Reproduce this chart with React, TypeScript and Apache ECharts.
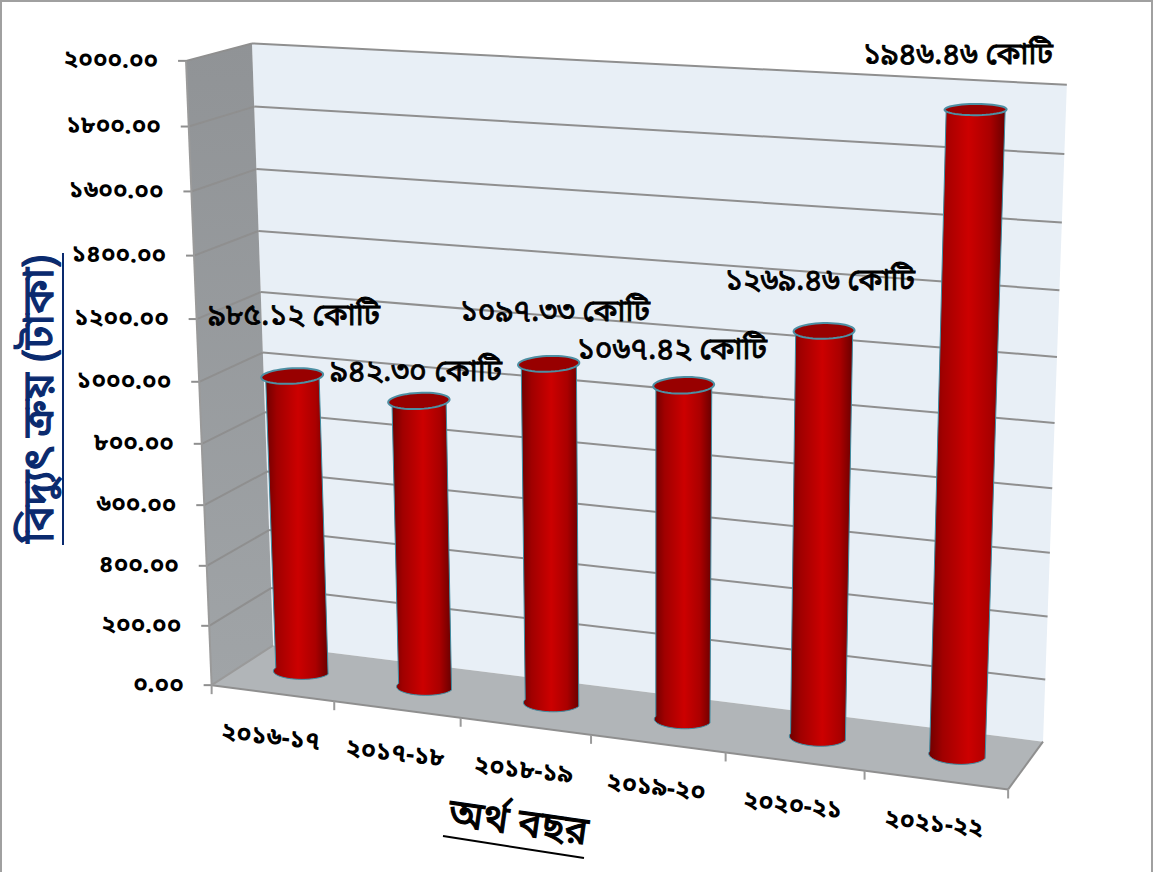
import React, { useEffect, useRef } from "react";
import * as echarts from "echarts";

const categories = ["২০১৬-১৭", "২০১৭-১৮", "২০১৮-১৯", "২০১৯-২০", "২০২০-২১", "২০২১-২২"];
const purchaseValues = [985.12, 942.3, 1097.33, 1067.42, 1269.46, 1946.46];
const valueLabels = ["৯৮৫.১২ কোটি", "৯৪২.৩০ কোটি", "১০৯৭.৩৩ কোটি", "১০৬৭.৪২ কোটি", "১২৬৯.৪৬ কোটি", "১৯৪৬.৪৬ কোটি"];
const tickValues = [0, 200, 400, 600, 800, 1000, 1200, 1400, 1600, 1800, 2000];
const tickLabels = ["০.০০", "২০০.০০", "৪০০.০০", "৬০০.০০", "৮০০.০০", "১০০০.০০", "১২০০.০০", "১৪০০.০০", "১৬০০.০০", "১৮০০.০০", "২০০০.০০"];
const yTitle = "বিদ্যুৎ ক্রয় (টাকা)";
const xTitle = "অর্থ বছর";

// hand-placed label centres of the original, in page pixels
const labelCentres = [[294, 317], [416, 373], [555, 313], [672, 351], [820, 282], [958, 56]];

const W = 1157;
const H = 872;
const FONT = '"Noto Sans Bengali", "Lohit Bengali", "Noto Sans", "DejaVu Sans", sans-serif';

// cube corners (u, v, w) -> page pixels: the 3D box of the original
const calibration: number[][] = [
  [0, 0, 0, 212, 683],
  [0, 1, 0, 186, 61.5],
  [0, 0.5, 0, 199, 381],
  [0, 0, 1, 273, 648],
  [0, 1, 1, 252, 43],
  [1, 0, 0, 1008, 792],
  [1, 0, 1, 1043, 739],
  [1, 1, 1, 1067, 85],
];

function solveCamera(pts: number[][]) {
  const n = 11;
  const M = Array.from({ length: n }, () => new Array(n + 1).fill(0));
  const add = (row: number[], b: number) => {
    for (let i = 0; i < n; i++) {
      for (let j = 0; j < n; j++) M[i][j] += row[i] * row[j];
      M[i][n] += row[i] * b;
    }
  };
  for (const [u, v, w, x, y] of pts) {
    add([u, v, w, 1, 0, 0, 0, 0, -x * u, -x * v, -x * w], x);
    add([0, 0, 0, 0, u, v, w, 1, -y * u, -y * v, -y * w], y);
  }
  for (let c = 0; c < n; c++) {
    let p = c;
    for (let r = c + 1; r < n; r++) if (Math.abs(M[r][c]) > Math.abs(M[p][c])) p = r;
    [M[c], M[p]] = [M[p], M[c]];
    for (let r = 0; r < n; r++) {
      if (r === c) continue;
      const f = M[r][c] / M[c][c];
      for (let k = c; k <= n; k++) M[r][k] -= f * M[c][k];
    }
  }
  return M.map((row, i) => row[n] / row[i]);
}

const cam = solveCamera(calibration);
function project(u: number, v: number, w: number): [number, number] {
  const d = cam[8] * u + cam[9] * v + cam[10] * w + 1;
  return [
    (cam[0] * u + cam[1] * v + cam[2] * w + cam[3]) / d,
    (cam[4] * u + cam[5] * v + cam[6] * w + cam[7]) / d,
  ];
}

const GRID = "#8f8f8f";
const toUV = (api: any, a: number, b: number) => {
  const p = api.coord([a, b]);
  return [p[0] / W, 1 - p[1] / H];
};

function renderWalls() {
  const poly = (pts: number[][], fill: any, stroke?: string) => ({
    type: "polygon",
    shape: { points: pts.map((p) => project(p[0], p[1], p[2])) },
    style: { fill, stroke: stroke || "none", lineWidth: 1 },
  });
  return {
    type: "group",
    children: [
      poly([[0, 0, 1], [1, 0, 1], [1, 1, 1], [0, 1, 1]], "#e8eff6"),
      poly(
        [[0, 0, 0], [0, 1, 0], [0, 1, 1], [0, 0, 1]],
        new echarts.graphic.LinearGradient(0, 0, 0, 1, [
          { offset: 0, color: "#909396" },
          { offset: 1, color: "#a0a4a7" },
        ])
      ),
      poly([[0, 0, 0], [1, 0, 0], [1, 0, 1], [0, 0, 1]], "#b1b5b8"),
    ],
  };
}

function line(a: number[], b: number[], color = GRID, width = 2) {
  return {
    type: "line",
    shape: { x1: a[0], y1: a[1], x2: b[0], y2: b[1] },
    style: { stroke: color, lineWidth: width },
  };
}

function renderTick(params: any, api: any) {
  const i = params.dataIndex;
  const [, v] = toUV(api, 0, api.value(1));
  const front = project(0, v, 0);
  const back = project(0, v, 1);
  const right = project(1, v, 1);
  const children: any[] = [
    line(front, [front[0] - 8, front[1]]),
    {
      type: "text",
      x: front[0] - 28,
      y: front[1] + 1.5,
      rotation: -1 * (Math.PI / 180),
      style: {
        text: tickLabels[i],
        font: `bold 24px ${FONT}`,
        fill: "#000",
        align: "right",
        verticalAlign: "middle",
      },
    },
  ];
  if (v > 0) {
    children.unshift(line(back, right), line(front, back));
  }
  return { type: "group", children };
}

function renderAxisEdges() {
  const a = project(0, 0, 0), b = project(0, 1, 0), c = project(0, 0, 1), e = project(1, 0, 0), f = project(1, 0, 1);
  const children: any[] = [line(a, b, "#9a9a9a"), line(a, e), line(e, f), line(a, c, "#9a9a9a")];
  for (let k = 0; k <= 6; k++) {
    const p = project(k / 6, 0, 0);
    children.push(line(p, [p[0], p[1] + 9], "#9a9a9a"));
  }
  return { type: "group", children };
}

function renderCategory(params: any, api: any) {
  const [u] = toUV(api, api.value(0), 0);
  const p = project(u, 0, 0);
  return {
    type: "text",
    x: p[0] - 2,
    y: p[1] + 45,
    rotation: -6 * (Math.PI / 180),
    style: {
      text: categories[params.dataIndex],
      font: `bold 25px ${FONT}`,
      fill: "#000",
      align: "center",
      verticalAlign: "middle",
    },
  };
}

const WC = 0.53;
const RW_TOP = 0.25;
const RW_BOTTOM = 0.19;
function circle(uc: number, v: number, rw: number) {
  // the original's columns sit a little left of band centre at the near-left end,
  // and do not widen with perspective as much as the box does
  const centre = uc + 0.0015 - 0.0054 * (1 - (uc - 0.08) / 0.84);
  const ru = 0.0365 - 0.004 * uc;
  const pts: [number, number][] = [];
  for (let k = 0; k < 48; k++) {
    const t = (k / 48) * Math.PI * 2;
    pts.push(project(centre + ru * Math.cos(t), v, WC + rw * Math.sin(t)));
  }
  return pts;
}

function renderBar(params: any, api: any) {
  const [u, v] = toUV(api, api.value(0), api.value(1));
  const bottom = circle(u, 0, RW_BOTTOM);
  const top = circle(u, v, RW_TOP);
  // k=0 is the right extreme, k=24 the left one; k in 24..47 is the front half
  const body = [top[24], top[0], bottom[0], ...bottom.slice(24).reverse(), bottom[24]];
  return {
    type: "group",
    children: [
      {
        type: "polygon",
        shape: { points: body },
        style: {
          fill: new echarts.graphic.LinearGradient(0, 0, 1, 0, [
            { offset: 0, color: "#6e0000" },
            { offset: 0.18, color: "#a00000" },
            { offset: 0.52, color: "#cc0000" },
            { offset: 0.8, color: "#aa0000" },
            { offset: 1, color: "#6a0000" },
          ]),
          stroke: "#3f8ea3",
          lineWidth: 1,
        },
      },
      {
        type: "polygon",
        shape: { points: top },
        style: { fill: "#980000", stroke: "#4d8fa3", lineWidth: 2 },
      },
    ],
  };
}

function renderValueLabel(params: any) {
  const c = labelCentres[params.dataIndex];
  return {
    type: "text",
    x: c[0],
    y: c[1],
    style: {
      text: valueLabels[params.dataIndex],
      font: `normal 30px ${FONT}`,
      fill: "#000",
      stroke: "#000",
      lineWidth: 0.9,
      align: "center",
      verticalAlign: "middle",
    },
  };
}

export default function App() {
  const ref = useRef<HTMLDivElement>(null);
  useEffect(() => {
    const chart = echarts.init(ref.current!, null, { renderer: "svg" });
    const custom = (renderItem: any, data: any[], z: number) => ({
      type: "custom",
      renderItem,
      data,
      z,
      clip: false,
      silent: true,
      encode: { x: 0, y: 1 },
    });
    chart.setOption({
      animation: false,
      backgroundColor: "#fff",
      grid: { left: 0, top: 0, width: W, height: H },
      xAxis: { type: "category", data: categories, show: false },
      yAxis: { type: "value", min: 0, max: 2000, show: false },
      series: [
        custom(renderWalls, [[0, 0]], 1),
        custom(renderTick, tickValues.map((t) => [0, t]), 2),
        custom(renderAxisEdges, [[0, 0]], 3),
        custom(renderCategory, categories.map((_, i) => [i, 0]), 4),
        custom(renderBar, purchaseValues.map((v, i) => [i, v]), 5),
        custom(renderValueLabel, purchaseValues.map((v, i) => [i, v]), 6),
      ],
      graphic: [
        {
          type: "rect",
          shape: { x: 1, y: 1, width: 1151, height: 900 },
          style: { fill: "none", stroke: "#a0a0a0", lineWidth: 2 },
          z: 10,
        },
        {
          type: "text",
          x: 42,
          y: 399,
          rotation: Math.PI / 2,
          style: {
            text: yTitle,
            font: `normal 43px ${FONT}`,
            fill: "#0a2a6e",
            stroke: "#0a2a6e",
            lineWidth: 1.2,
            align: "center",
            verticalAlign: "middle",
          },
          z: 10,
        },
        { type: "line", shape: { x1: 63, y1: 253, x2: 63, y2: 545 }, style: { stroke: "#0a2a6e", lineWidth: 2 }, z: 10 },
        {
          type: "text",
          x: 518,
          y: 825,
          rotation: -8 * (Math.PI / 180),
          style: {
            text: xTitle,
            font: `normal 39px ${FONT}`,
            fill: "#000",
            stroke: "#000",
            lineWidth: 1.1,
            align: "center",
            verticalAlign: "middle",
          },
          z: 10,
        },
        { type: "line", shape: { x1: 443, y1: 836, x2: 584, y2: 858 }, style: { stroke: "#000", lineWidth: 2 }, z: 10 },
      ],
    });
    return () => chart.dispose();
  }, []);
  return <div ref={ref} style={{ position: "absolute", left: 0, top: 0, width: W, height: H }} />;
}
